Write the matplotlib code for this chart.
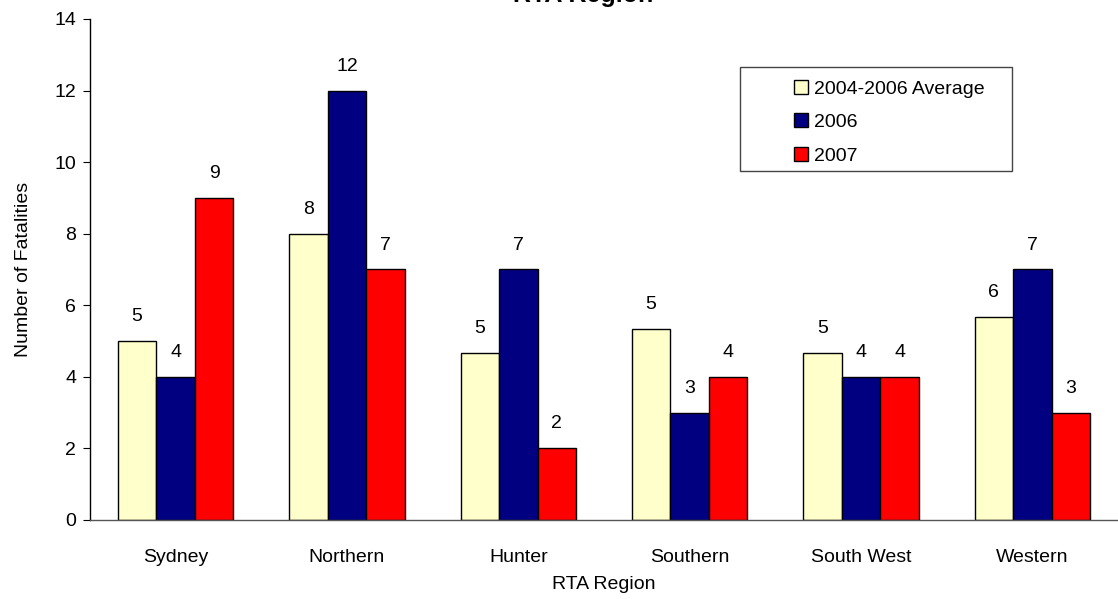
import numpy as np
import matplotlib.pyplot as plt
from matplotlib.patches import Rectangle

plt.rcParams['font.family'] = ['Liberation Sans', 'DejaVu Sans']

# Data
regions = ['Sydney', 'Northern', 'Hunter', 'Southern', 'South West', 'Western']
avg_0406 = [5.0, 8.0, 4.67, 5.33, 4.67, 5.67]
fat_2006 = [4, 12, 7, 3, 4, 7]
fat_2007 = [9, 7, 2, 4, 4, 3]
series_names = ['2004-2006 Average', '2006', '2007']
series_colors = ['#FFFFCC', '#000080', '#FF0000']

fs = 14

fig = plt.figure(figsize=(11.18, 5.99), dpi=100)
ax = fig.add_axes([0.0805, 0.1319, 0.9195, 0.8364])

x = np.arange(len(regions))
w = 0.225
handles = []
for i, (vals, name, col) in enumerate(zip([avg_0406, fat_2006, fat_2007], series_names, series_colors)):
    bars = ax.bar(x + (i - 1) * w, vals, w, color=col, edgecolor='black', linewidth=1, label=name)
    handles.append(bars)
    for b, v in zip(bars, vals):
        ax.annotate(f'{round(v):d}', (b.get_x() + b.get_width() / 2, v),
                    xytext=(0, 11.5), textcoords='offset points',
                    ha='center', va='bottom', fontsize=fs)

ax.set_xlim(-0.5, len(regions) - 0.5)
ax.set_ylim(0, 14)
ax.set_yticks(range(0, 15, 2))
ax.set_xticks(x)
ax.set_xticklabels(regions)
ax.tick_params(axis='x', length=0, pad=21, labelsize=fs)
ax.tick_params(axis='y', length=5, direction='out', labelsize=fs, pad=5)
for s in ['top', 'right']:
    ax.spines[s].set_visible(False)
ax.spines['left'].set_linewidth(1)
ax.spines['bottom'].set_linewidth(1)
ax.spines['bottom'].set_color('#555555')

ax.set_xlabel('RTA Region', fontsize=fs, labelpad=7)
ax.set_ylabel('Number of Fatalities', fontsize=fs, labelpad=16)

# title cut off at the top edge of the image
fig.text(583 / 1118, 1 - 2 / 599, 'RTA Region', ha='center', va='baseline',
         fontsize=18, fontweight='bold')

# legend box
fig.patches.append(Rectangle((740 / 1118, 1 - 171 / 599), 272 / 1118, 104 / 599,
                             transform=fig.transFigure, facecolor='white',
                             edgecolor='#444444', linewidth=1, zorder=3))
leg = fig.legend(handles=handles, labels=series_names, loc='upper left',
                 bbox_to_anchor=(784 / 1118, 1 - 70 / 599), frameon=False,
                 fontsize=fs, handlelength=0.75, handleheight=0.75,
                 handletextpad=0.3, labelspacing=0.8, borderpad=0)
leg.set_zorder(4)

fig.savefig('out.png', dpi=100)
